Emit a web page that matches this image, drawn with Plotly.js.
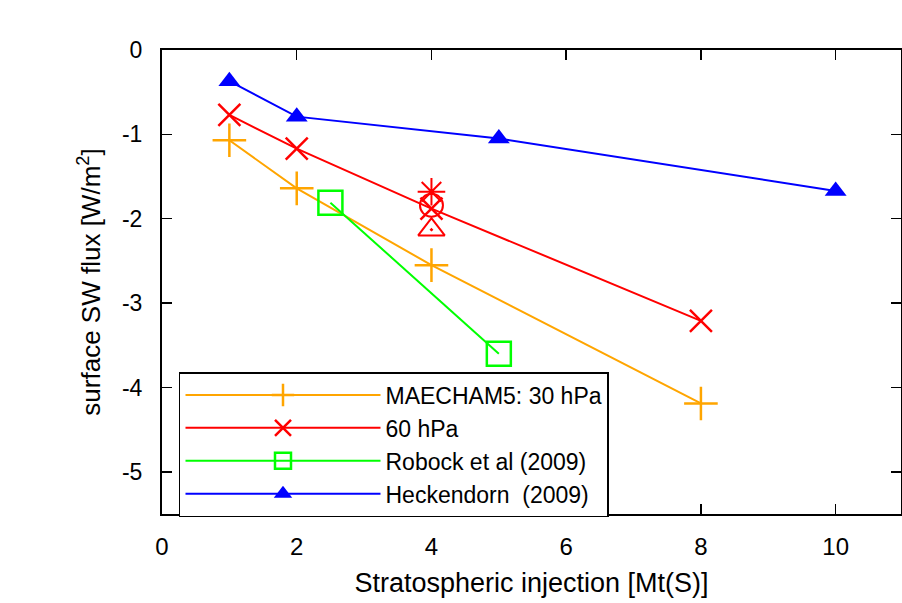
<!DOCTYPE html>
<html>
<head>
<meta charset="utf-8">
<script src="https://cdn.plot.ly/plotly-3.0.1.min.js"></script>
<style>html,body{margin:0;padding:0;background:#fff;}#chart{width:902px;height:603px;}</style>
</head>
<body>
<div id="chart"></div>
<script>
// Data
const m30X = [1, 2, 4, 8];
const m30Y = [-1.07, -1.64, -2.55, -4.19];
const m60X = [1, 2, 4, 8];
const m60Y = [-0.77, -1.17, -1.88, -3.21];
const robockX = [2.5, 5];
const robockY = [-1.81, -3.60];
const heckX = [1, 2, 5, 10];
const heckY = [-0.37, -0.79, -1.05, -1.67];
// extra 60 hPa sensitivity points at 4 Mt(S)
const extraX = [4, 4, 4];
const extraY = [-1.68, -1.84, -2.13];
const extraSymbols = ['asterisk-open', 'circle-open', 'triangle-up-open-dot'];
const xTicks = [0, 2, 4, 6, 8, 10];
const yTicks = [-5, -4, -3, -2, -1, 0];
const names = ['MAECHAM5: 30 hPa', '60 hPa', 'Robock et al (2009)', 'Heckendorn  (2009)'];

const traces = [
  {x: m30X, y: m30Y, name: names[0], mode: 'lines+markers',
   line: {color: '#ffa500', width: 2},
   marker: {symbol: 'cross-thin-open', size: 24, line: {color: '#ffa500', width: 2.5}}},
  {x: m60X, y: m60Y, name: names[1], mode: 'lines+markers',
   line: {color: '#ff0000', width: 2},
   marker: {symbol: 'x-thin-open', size: 22, line: {color: '#ff0000', width: 2.5}}},
  {x: robockX, y: robockY, name: names[2], mode: 'lines+markers',
   line: {color: '#00ff00', width: 2},
   marker: {symbol: 'square-open', size: 24, color: '#00ff00', line: {color: '#00ff00', width: 2.5}}},
  {x: heckX, y: heckY, name: names[3], mode: 'lines+markers',
   line: {color: '#0000ff', width: 2},
   marker: {symbol: 'triangle-up', size: 19, color: '#0000ff'}},
  {x: extraX, y: extraY, mode: 'markers', showlegend: false,
   marker: {symbol: extraSymbols, size: 23, opacity: 1, color: '#ff0000', line: {color: '#ff0000', width: 2}}}
];

const regular = 'Liberation Sans, Arial, sans-serif';

const layout = {
  width: 902, height: 603,
  margin: {l: 162, r: 1, t: 50, b: 89},
  paper_bgcolor: '#fff', plot_bgcolor: '#fff',
  font: {family: regular, size: 24, color: '#000'},
  showlegend: true,
  legend: {
    x: 0.023, y: 0.306, xanchor: 'left', yanchor: 'top',
    bordercolor: '#000', borderwidth: 1.5, bgcolor: '#fff',
    font: {family: regular, size: 23, color: '#000'},
    tracegroupgap: 0, itemwidth: 195
  },
  xaxis: {
    range: [0, 10.97], tickvals: xTicks, ticktext: xTicks.map(String),
    ticks: 'inside', ticklen: 10, tickwidth: 1.5, tickcolor: '#000',
    showline: true, linecolor: '#000', linewidth: 2, mirror: 'ticks',
    showgrid: false, zeroline: false,
    tickfont: {family: regular, size: 24}, ticklabelstandoff: 10,
    title: {text: 'Stratospheric injection [Mt(S)]', font: {family: regular, size: 27}, standoff: 14}
  },
  yaxis: {
    range: [-5.5, 0], tickvals: yTicks, ticktext: yTicks.map(String),
    ticks: 'inside', ticklen: 10, tickwidth: 1.5, tickcolor: '#000',
    showline: true, linecolor: '#000', linewidth: 2, mirror: 'ticks',
    showgrid: false, zeroline: false,
    tickfont: {family: regular, size: 23}, ticklabelstandoff: 13,
    title: {text: 'surface SW flux [W/m<sup>2</sup>]', font: {family: regular, size: 26}, standoff: 14}
  }
};

Plotly.newPlot('chart', traces, layout, {displayModeBar: false, staticPlot: true});
</script>
</body>
</html>
